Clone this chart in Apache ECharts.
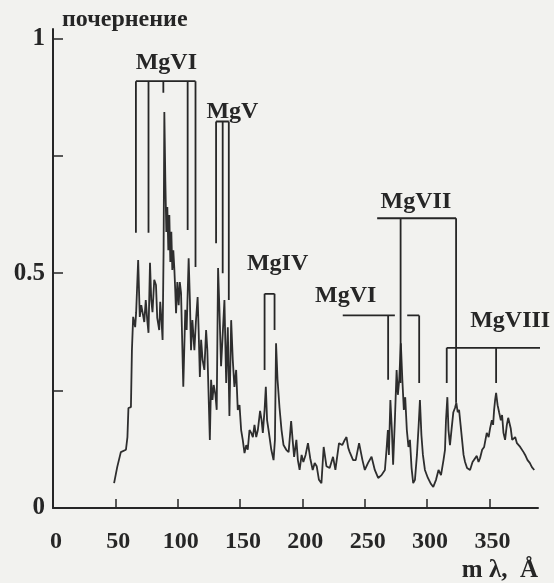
<!DOCTYPE html>
<html>
<head>
<meta charset="utf-8">
<script src="https://cdn.jsdelivr.net/npm/echarts@6/dist/echarts.min.js"></script>
<style>
  html, body { margin: 0; padding: 0; background: #f2f2ef; }
  #chart { width: 554px; height: 583px; }
</style>
</head>
<body>
<div id="chart"></div>
<script>
// спектр: m·λ (Å) -> почернение
const wavelength = [
  49.0, 51.5, 54.4, 58.5, 59.7, 60.5, 62.5, 63.3, 64.3, 65.9,
  66.7, 68.3, 69.6, 70.8, 71.8, 73.2, 74.4, 75.6, 76.6, 77.8,
  78.8, 79.8, 81.2, 82.6, 83.6, 85.2, 86.0, 87.1, 87.9, 88.7,
  89.3, 90.1, 90.9, 91.7, 92.5, 93.3, 94.1, 94.9, 95.7, 96.5,
  97.3, 98.1, 98.7, 99.7, 100.8, 101.7, 102.7, 104.5, 106.1, 107.2,
  108.8, 109.8, 110.7, 111.8, 113.4, 114.6, 116.0, 116.8, 117.8, 118.8,
  120.0, 121.4, 122.8, 123.8, 125.8, 126.8, 127.9, 128.9, 130.3, 131.3,
  132.4, 133.5, 134.8, 135.9, 137.5, 138.9, 140.2, 141.5, 142.9, 144.2,
  145.5, 146.9, 148.2, 149.6, 150.9, 152.2, 153.6, 155.0, 156.2, 157.6,
  159.0, 160.3, 161.6, 163.0, 164.3, 166.1, 167.3, 168.3, 169.7, 170.7,
  171.7, 172.9, 175.1, 176.9, 178.0, 178.9, 180.1, 181.7, 183.3, 184.9,
  187.1, 189.0, 191.0, 192.2, 193.4, 195.2, 196.4, 197.8, 199.4, 200.8,
  202.6, 204.5, 206.3, 208.3, 209.9, 211.5, 213.3, 215.3, 217.1, 219.3,
  221.9, 224.6, 226.5, 229.4, 232.0, 234.0, 235.4, 236.8, 238.0, 240.7,
  242.8, 245.5, 248.2, 250.1, 252.7, 255.5, 258.1, 260.8, 263.5, 266.2,
  267.5, 268.6, 269.4, 270.6, 271.8, 272.8, 274.2, 275.6, 276.6, 277.7,
  279.0, 280.2, 281.4, 282.5, 283.8, 285.1, 286.3, 287.6, 288.9, 290.3,
  291.9, 293.3, 294.3, 295.5, 296.7, 298.3, 300.7, 303.2, 305.0, 307.2,
  309.2, 311.2, 313.2, 314.4, 315.2, 316.3, 317.2, 318.4, 319.6, 321.1,
  322.4, 323.5, 324.6, 325.7, 326.9, 328.1, 329.3, 330.5, 332.1, 334.5,
  336.5, 337.7, 339.9, 341.3, 342.5, 344.2, 345.8, 347.9, 349.4, 350.6,
  352.0, 353.0, 353.8, 354.6, 355.4, 356.6, 357.8, 359.2, 360.2, 361.3,
  362.6, 364.0, 365.1, 366.1, 367.1, 368.3, 369.3, 370.7, 372.1, 373.3,
  374.7, 376.1, 377.4, 378.7, 380.6, 382.4, 384.1, 386.0
];
const blackening = [
  0.053, 0.087, 0.119, 0.124, 0.151, 0.213, 0.215, 0.336, 0.407, 0.385,
  0.417, 0.528, 0.407, 0.432, 0.417, 0.396, 0.443, 0.400, 0.373, 0.522,
  0.443, 0.417, 0.486, 0.475, 0.405, 0.379, 0.439, 0.396, 0.358, 0.549,
  0.843, 0.698, 0.588, 0.641, 0.549, 0.624, 0.524, 0.588, 0.507, 0.549,
  0.511, 0.460, 0.415, 0.481, 0.432, 0.481, 0.458, 0.258, 0.422, 0.379,
  0.532, 0.443, 0.336, 0.400, 0.336, 0.396, 0.449, 0.379, 0.279, 0.358,
  0.315, 0.294, 0.379, 0.336, 0.145, 0.273, 0.230, 0.262, 0.241, 0.209,
  0.511, 0.422, 0.302, 0.358, 0.443, 0.266, 0.385, 0.196, 0.400, 0.315,
  0.258, 0.294, 0.209, 0.219, 0.166, 0.145, 0.117, 0.134, 0.124, 0.166,
  0.160, 0.151, 0.177, 0.151, 0.166, 0.207, 0.187, 0.160, 0.209, 0.258,
  0.187, 0.166, 0.124, 0.102, 0.145, 0.351, 0.273, 0.213, 0.166, 0.134,
  0.124, 0.119, 0.185, 0.145, 0.109, 0.145, 0.102, 0.081, 0.113, 0.098,
  0.113, 0.138, 0.106, 0.081, 0.096, 0.089, 0.060, 0.053, 0.130, 0.089,
  0.085, 0.109, 0.081, 0.138, 0.134, 0.145, 0.151, 0.128, 0.119, 0.102,
  0.102, 0.138, 0.102, 0.081, 0.096, 0.109, 0.081, 0.064, 0.070, 0.081,
  0.124, 0.166, 0.113, 0.230, 0.166, 0.092, 0.187, 0.294, 0.241, 0.273,
  0.351, 0.273, 0.209, 0.236, 0.166, 0.130, 0.145, 0.085, 0.053, 0.060,
  0.113, 0.177, 0.230, 0.155, 0.113, 0.081, 0.064, 0.051, 0.045, 0.060,
  0.081, 0.070, 0.102, 0.124, 0.187, 0.236, 0.166, 0.134, 0.166, 0.204,
  0.213, 0.224, 0.204, 0.209, 0.177, 0.145, 0.113, 0.098, 0.085, 0.081,
  0.098, 0.102, 0.111, 0.098, 0.106, 0.124, 0.130, 0.160, 0.151, 0.170,
  0.187, 0.177, 0.209, 0.230, 0.245, 0.219, 0.204, 0.187, 0.198, 0.160,
  0.145, 0.177, 0.192, 0.192, 0.170, 0.145, 0.145, 0.151, 0.138, 0.141,
  0.130, 0.130, 0.119, 0.113, 0.102, 0.096, 0.087, 0.081
];

// отметки линий ионов: скобка сверху и вертикальные линии вниз
const ionNames = ['MgVI', 'MgV', 'MgIV', 'MgVI', 'MgVII', 'MgVIII'];
const bracketTop = [0.909, 0.823, 0.456, 0.410, 0.617, 0.341];
const bracketSpan = [[66.5, 114.3], [130.8, 141.0], [169.7, 177.7], [232.4, 293.7], [260.0, 323.3], [315.8, 401.0]];
const bracketGap = [null, null, null, [274.2, 284.1], null, null];
const lineWavelengths = [[66.5, 76.6, 88.5, 108.0, 114.3], [130.8, 136.1, 141.0], [169.7, 177.7], [268.8, 293.7], [278.8, 323.3], [315.8, 355.4]];
const lineBottoms = [[0.586, 0.586, 0.884, 0.592, 0.513], [0.564, 0.500, 0.443], [0.294, 0.379], [0.273, 0.266], [0.266, 0.224], [0.266, 0.266]];
const labelPos = [[90.9, 0.948], [143.9, 0.843], [180.1, 0.520], [234.8, 0.451], [291.1, 0.652], [366.7, 0.398]];

const xTickValues = [50, 100, 150, 200, 250, 300, 350];
const xLabelValues = [0, 50, 100, 150, 200, 250, 300, 350];
const yTickValues = [0.25, 0.5, 0.75, 1];
const yLabelValues = [0, 0.5, 1];

const ink = '#262626';
const serif = 'Liberation Serif, DejaVu Serif, serif';

// сегменты скобок в одну линию с разрывами
const bracketData = [];
ionNames.forEach((name, i) => {
  const top = bracketTop[i];
  const [a, b] = bracketSpan[i];
  const gap = bracketGap[i];
  if (gap) {
    bracketData.push([a, top], [gap[0], top], ['-', '-'], [gap[1], top], [b, top], ['-', '-']);
  } else {
    bracketData.push([a, top], [b, top], ['-', '-']);
  }
  lineWavelengths[i].forEach((w, j) => {
    bracketData.push([w, top], [w, lineBottoms[i][j]], ['-', '-']);
  });
});

const chart = echarts.init(document.getElementById('chart'));
chart.setOption({
  animation: false,
  backgroundColor: '#f2f2ef',
  grid: { left: 53, right: 16, top: 29, bottom: 75 },
  xAxis: {
    type: 'value',
    min: 0,
    max: 389,
    name: 'm λ,  Å',
    nameLocation: 'end',
    nameGap: 0,
    nameTextStyle: { color: ink, fontFamily: serif, fontSize: 25, fontWeight: 'bold', align: 'right', verticalAlign: 'top', padding: [50, 0, 0, 0] },
    axisLine: { lineStyle: { color: ink, width: 2 } },
    axisTick: { inside: true, length: 9, lineStyle: { color: ink, width: 1.5 }, customValues: xTickValues },
    axisLabel: { color: ink, fontFamily: serif, fontSize: 24, fontWeight: 'bold', margin: 22, padding: [0, 0, 0, 6], customValues: xLabelValues },
    splitLine: { show: false }
  },
  yAxis: {
    type: 'value',
    min: 0,
    max: 1.02,
    name: 'почернение',
    nameLocation: 'end',
    nameGap: -3,
    nameTextStyle: { color: ink, fontFamily: serif, fontSize: 24, fontWeight: 'bold', align: 'left', verticalAlign: 'bottom', padding: [0, 0, 0, 9] },
    axisLine: { lineStyle: { color: ink, width: 2 } },
    axisTick: { inside: true, length: 10, lineStyle: { color: ink, width: 1.5 }, customValues: yTickValues },
    axisLabel: { color: ink, fontFamily: serif, fontSize: 25, fontWeight: 'bold', margin: 8, customValues: yLabelValues },
    splitLine: { show: false }
  },
  series: [
    {
      type: 'line',
      data: wavelength.map((w, i) => [w, blackening[i]]),
      showSymbol: false,
      symbol: 'none',
      lineStyle: { color: '#2e2e2e', width: 1.8 },
      silent: true
    },
    {
      type: 'line',
      data: bracketData,
      connectNulls: false,
      showSymbol: false,
      symbol: 'none',
      clip: false,
      lineStyle: { color: ink, width: 1.8 },
      silent: true
    },
    {
      type: 'scatter',
      symbolSize: 0,
      itemStyle: { opacity: 1 },
      data: ionNames.map((n, i) => ({ name: n, value: labelPos[i] })),
      label: {
        show: true,
        position: 'inside',
        formatter: '{b}',
        color: ink,
        opacity: 1,
        fontFamily: serif,
        fontSize: 24,
        fontWeight: 'bold'
      },
      silent: true
    }
  ]
});
</script>
</body>
</html>
